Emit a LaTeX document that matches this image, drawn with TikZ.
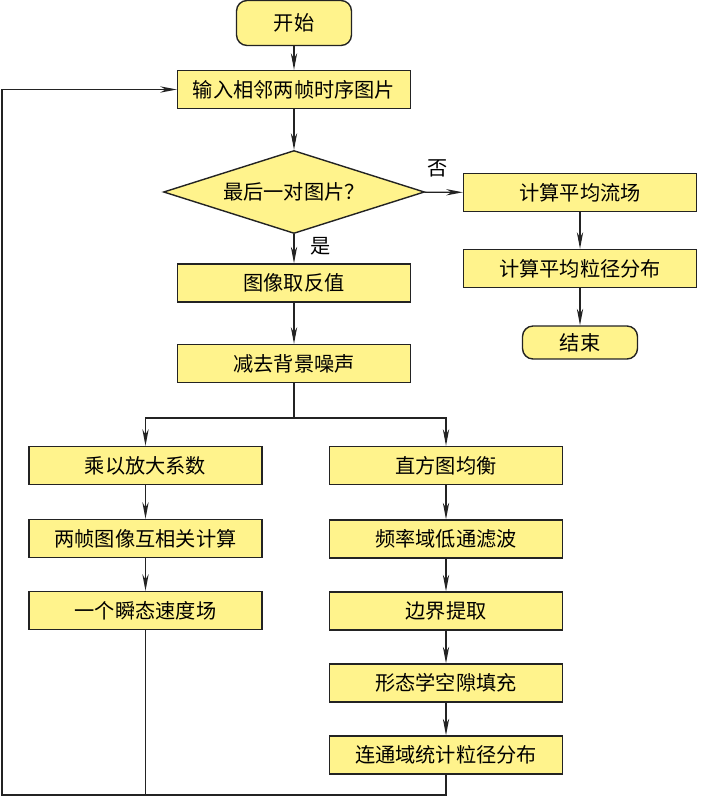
\documentclass[tikz,border=0pt]{standalone}
\usepackage{fontspec}
\setmainfont{Noto Sans CJK SC}
\usepackage{tikz}
\usetikzlibrary{arrows.meta,shapes.geometric}
\definecolor{boxyellow}{RGB}{255,243,140}
\definecolor{edgegray}{RGB}{35,35,35}

\begin{document}
\begin{tikzpicture}[x=0.02cm, y=-0.02cm, >={Stealth[length=9.5pt,width=3.6pt]},
        every node/.style={font=\fontsize{11.5}{13}\selectfont},
        proc/.style={draw=edgegray, line width=0.8pt, fill=boxyellow,
            minimum width=4.66cm, minimum height=0.76cm, inner sep=0pt},
        term/.style={proc, rounded corners=6pt, minimum width=2.3cm},
        decide/.style={diamond, aspect=3.15, draw=edgegray, line width=0.8pt,
            fill=boxyellow, minimum width=5.22cm, minimum height=1.66cm, inner sep=0pt},
        flow/.style={->, draw=edgegray, line width=0.6pt}]
        \def\xm{294}
        \def\xr{580}
        \def\xl{145.5}
        \def\xq{446}

        \useasboundingbox (0,0) rectangle (700,797);

        % -- main column --
        \node[term, minimum height=0.9cm] (start) at (\xm,23) {开始};
        \node[proc] (input) at (\xm,89.5) {输入相邻两帧时序图片};
        \node[decide] (last) at (\xm,192) {最后一对图片？};
        \node[proc] (invert) at (\xm,283) {图像取反值};
        \node[proc] (denoise) at (\xm,363.5) {减去背景噪声};
        \coordinate (split) at (\xm,418);

        % -- right column: end of loop --
        \node[proc] (avgflow) at (\xr,192.5) {计算平均流场};
        \node[proc] (avgsize) at (\xr,268.5) {计算平均粒径分布};
        \node[term, minimum height=0.66cm] (stop) at (\xr,342.5) {结束};

        % -- left branch: velocity field --
        \node[proc] (amplify) at (\xl,465.5) {乘以放大系数};
        \node[proc] (corr) at (\xl,538.5) {两帧图像互相关计算};
        \node[proc] (vel) at (\xl,610.5) {一个瞬态速度场};

        % -- right branch: particle size --
        \node[proc] (equal) at (\xq,465.5) {直方图均衡};
        \node[proc] (lowpass) at (\xq,539) {频率域低通滤波};
        \node[proc] (edge) at (\xq,611) {边界提取};
        \node[proc] (fillgap) at (\xq,683) {形态学空隙填充};
        \node[proc] (count) at (\xq,755) {连通域统计粒径分布};

        % -- connectors --
        \draw[flow] (start) -- (input);
        \draw[flow] (input) -- (last);
        \draw[flow] (last) -- (invert) node[pos=0.4, right=6pt] {是};
        \draw[flow] (last) -- (avgflow) node[pos=0.35, above=5pt] {否};
        \draw[flow] (avgflow) -- (avgsize);
        \draw[flow] (avgsize) -- (stop);
        \draw[flow] (invert) -- (denoise);
        \draw[draw=edgegray, line width=0.6pt] (denoise) -- (split);
        \draw[flow] (split) -| (amplify);
        \draw[flow] (split) -| (equal);
        \draw[flow] (amplify) -- (corr);
        \draw[flow] (corr) -- (vel);
        \draw[flow] (equal) -- (lowpass);
        \draw[flow] (lowpass) -- (edge);
        \draw[flow] (edge) -- (fillgap);
        \draw[flow] (fillgap) -- (count);

        % -- loop back to the input --
        \coordinate (corner) at (2,795);
        \draw[draw=edgegray, line width=0.6pt] (vel.south) -- (vel.south |- corner);
        \draw[flow] (count.south) |- (corner) |- (input.west);

    \end{tikzpicture}
\end{document}
